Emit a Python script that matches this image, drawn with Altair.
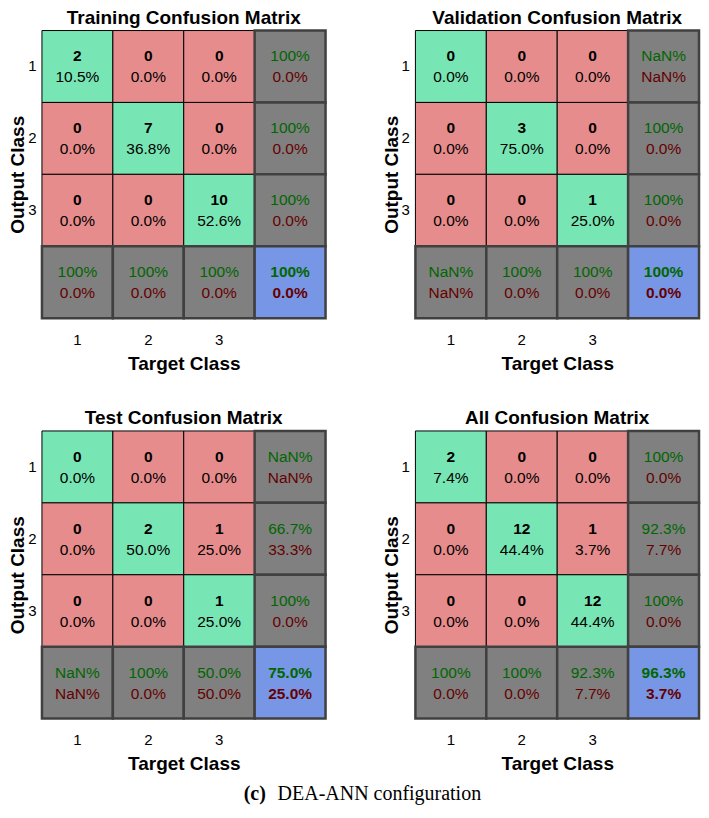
import altair as alt
import pandas as pd

# ---------------- data ----------------
classes = ["1", "2", "3"]
summary_key = "S"
panel_titles = ["Training Confusion Matrix", "Validation Confusion Matrix",
                "Test Confusion Matrix", "All Confusion Matrix"]
caption_parts = ["(c)", "DEA-ANN configuration"]

train_counts = [[2, 0, 0], [0, 7, 0], [0, 0, 10]]
train_pcts = [["10.5%", "0.0%", "0.0%"], ["0.0%", "36.8%", "0.0%"], ["0.0%", "0.0%", "52.6%"]]
train_row_ok = ["100%", "100%", "100%"]
train_row_err = ["0.0%", "0.0%", "0.0%"]
train_col_ok = ["100%", "100%", "100%"]
train_col_err = ["0.0%", "0.0%", "0.0%"]
train_total = ["100%", "0.0%"]

val_counts = [[0, 0, 0], [0, 3, 0], [0, 0, 1]]
val_pcts = [["0.0%", "0.0%", "0.0%"], ["0.0%", "75.0%", "0.0%"], ["0.0%", "0.0%", "25.0%"]]
val_row_ok = ["NaN%", "100%", "100%"]
val_row_err = ["NaN%", "0.0%", "0.0%"]
val_col_ok = ["NaN%", "100%", "100%"]
val_col_err = ["NaN%", "0.0%", "0.0%"]
val_total = ["100%", "0.0%"]

test_counts = [[0, 0, 0], [0, 2, 1], [0, 0, 1]]
test_pcts = [["0.0%", "0.0%", "0.0%"], ["0.0%", "50.0%", "25.0%"], ["0.0%", "0.0%", "25.0%"]]
test_row_ok = ["NaN%", "66.7%", "100%"]
test_row_err = ["NaN%", "33.3%", "0.0%"]
test_col_ok = ["NaN%", "100%", "50.0%"]
test_col_err = ["NaN%", "0.0%", "50.0%"]
test_total = ["75.0%", "25.0%"]

all_counts = [[2, 0, 0], [0, 12, 1], [0, 0, 12]]
all_pcts = [["7.4%", "0.0%", "0.0%"], ["0.0%", "44.4%", "3.7%"], ["0.0%", "0.0%", "44.4%"]]
all_row_ok = ["100%", "92.3%", "100%"]
all_row_err = ["0.0%", "7.7%", "0.0%"]
all_col_ok = ["100%", "100%", "92.3%"]
all_col_err = ["0.0%", "0.0%", "7.7%"]
all_total = ["96.3%", "3.7%"]

# ---------------- styles ----------------
kinds = ["diag", "off", "sum", "total"]
fills = ["#78E6B4", "#E68C8C", "#808080", "#7896E6"]
GREEN = "#006600"
DRED = "#660000"
SANS = "Liberation Sans"
SERIF = "Liberation Serif"
PW = 284
PH = 288


def build_df(counts, pcts, row_ok, row_err, col_ok, col_err, total):
    recs = []
    for r in range(3):
        for c in range(3):
            recs.append(dict(row=classes[r], col=classes[c],
                             kind="diag" if r == c else "off", summary=False,
                             l1=str(counts[r][c]), l2=pcts[r][c],
                             c1="black", c2="black", b1=True, b2=False))
    for r in range(3):
        recs.append(dict(row=classes[r], col=summary_key, kind="sum", summary=True,
                         l1=row_ok[r], l2=row_err[r], c1=GREEN, c2=DRED, b1=False, b2=False))
    for c in range(3):
        recs.append(dict(row=summary_key, col=classes[c], kind="sum", summary=True,
                         l1=col_ok[c], l2=col_err[c], c1=GREEN, c2=DRED, b1=False, b2=False))
    recs.append(dict(row=summary_key, col=summary_key, kind="total", summary=True,
                     l1=total[0], l2=total[1], c1=GREEN, c2=DRED, b1=True, b2=True))
    return pd.DataFrame(recs)


order = classes + [summary_key]
label_expr = "datum.value == 'S' ? '' : datum.value"


def panel(df, title, caption=False):
    xaxis = alt.Axis(labelExpr=label_expr, labelAngle=0, ticks=False, domain=False, grid=False,
                     labelPadding=14, labelFontSize=15, labelFont=SANS, labelColor="black",
                     titleFont=SANS, titleFontSize=19, titleFontWeight="bold", titleColor="black",
                     titlePadding=7)
    yaxis = alt.Axis(labelExpr=label_expr, ticks=False, domain=False, grid=False,
                     labelPadding=6, labelFontSize=15, labelFont=SANS, labelColor="black",
                     titleFont=SANS, titleFontSize=19, titleFontWeight="bold", titleColor="black",
                     titlePadding=0)
    base = alt.Chart(df).encode(
        x=alt.X("col:N", scale=alt.Scale(domain=order, paddingInner=0, paddingOuter=0),
                axis=xaxis, title="Target Class"),
        y=alt.Y("row:N", scale=alt.Scale(domain=order, paddingInner=0, paddingOuter=0),
                axis=yaxis, title="Output Class"),
    )
    fill = alt.Fill("kind:N", scale=alt.Scale(domain=kinds, range=fills), legend=None)
    rect_main = base.transform_filter("!datum.summary").mark_rect(
        stroke="black", strokeWidth=1).encode(fill=fill)
    rect_sum = base.transform_filter("datum.summary").mark_rect(
        stroke="#404040", strokeWidth=2.5).encode(fill=fill)

    def txt(field, colfield, flag, bold, dy):
        cond = f"datum.{flag}" if bold else f"!datum.{flag}"
        return base.transform_filter(cond).mark_text(
            font=SANS, fontSize=15.5, fontWeight="bold" if bold else "normal", dy=dy
        ).encode(text=f"{field}:N", color=alt.Color(f"{colfield}:N", scale=None))

    title_mark = alt.Chart(pd.DataFrame({"t": [title]})).mark_text(
        font=SANS, fontSize=19, fontWeight="bold", align="center", baseline="top",
        color="black").encode(x=alt.value(PW / 2), y=alt.value(-22), text="t:N")

    layers = [rect_main, rect_sum,
              txt("l1", "c1", "b1", True, -10), txt("l1", "c1", "b1", False, -10),
              txt("l2", "c2", "b2", True, 11), txt("l2", "c2", "b2", False, 11),
              title_mark]
    if caption:
        cap1 = alt.Chart(pd.DataFrame({"t": [caption_parts[0]]})).mark_text(
            font=SERIF, fontSize=20, fontWeight="bold", align="left", baseline="alphabetic",
            color="black").encode(x=alt.value(202), y=alt.value(370), text="t:N")
        cap2 = alt.Chart(pd.DataFrame({"t": [caption_parts[1]]})).mark_text(
            font=SERIF, fontSize=20, fontWeight="normal", align="left", baseline="alphabetic",
            color="black").encode(x=alt.value(236), y=alt.value(370), text="t:N")
        layers += [cap1, cap2]
    return alt.layer(*layers).properties(width=PW, height=PH)


p1 = panel(build_df(train_counts, train_pcts, train_row_ok, train_row_err,
                    train_col_ok, train_col_err, train_total), panel_titles[0])
p2 = panel(build_df(val_counts, val_pcts, val_row_ok, val_row_err,
                    val_col_ok, val_col_err, val_total), panel_titles[1])
p3 = panel(build_df(test_counts, test_pcts, test_row_ok, test_row_err,
                    test_col_ok, test_col_err, test_total), panel_titles[2], caption=True)
p4 = panel(build_df(all_counts, all_pcts, all_row_ok, all_row_err,
                    all_col_ok, all_col_err, all_total), panel_titles[3])

chart = alt.concat(p1, p2, p3, p4, columns=2,
                   spacing={"row": 113, "column": 90}).properties(
    bounds="flush", padding=0, background="white"
).configure_view(stroke=None)

chart.save("out.html", embed_options={"renderer": "svg", "actions": False})
